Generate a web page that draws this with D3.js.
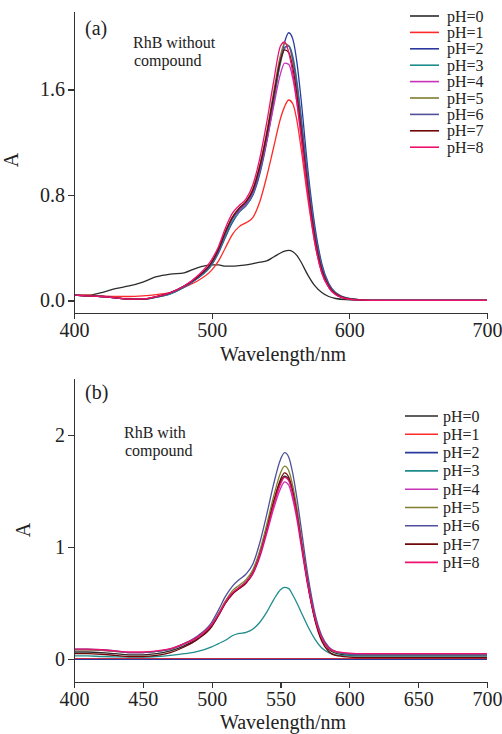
<!DOCTYPE html>
<head>
<meta charset="utf-8">
<script src="https://d3js.org/d3.v7.min.js"></script>
<style>
  body { margin: 0; background: #fff; }
  svg text { font-family: "Liberation Serif", "Times New Roman", serif; fill: #222; }
  .axis path, .axis line { fill: none; stroke: #333; stroke-width: 1.2; shape-rendering: crispEdges; }
  .curve { fill: none; stroke-width: 1.3; }
</style>
</head>
<body>
<div id="chart"></div>
<script>
// wavelength grid shared by every spectrum (nm)
var wl = [400,410,420,430,440,450,460,470,480,490,500,505,510,515,520,525,530,535,540,545,550,553,556,559,562,565,570,575,580,585,590,600,610,620,650,700];

var phLabels = ["pH=0","pH=1","pH=2","pH=3","pH=4","pH=5","pH=6","pH=7","pH=8"];
var phColors = ["#2b2b2b","#ff2a2a","#2a3a9c","#1f8c8c","#c832b8","#7e7e2e","#50509c","#6e0808","#ee1270"];

// (a) RhB without compound
var a0 = [0.04,0.04,0.06,0.09,0.11,0.14,0.18,0.20,0.21,0.25,0.27,0.27,0.26,0.26,0.265,0.27,0.28,0.29,0.30,0.33,0.36,0.375,0.38,0.37,0.34,0.29,0.19,0.11,0.06,0.03,0.015,0.005,0,0,0,0];
var a1 = [0.04,0.04,0.035,0.03,0.03,0.035,0.045,0.06,0.10,0.15,0.23,0.30,0.40,0.50,0.56,0.59,0.63,0.75,0.94,1.16,1.38,1.47,1.52,1.49,1.36,1.15,0.76,0.43,0.21,0.10,0.045,0.01,0.003,0,0,0];
var a2 = [0.04,0.035,0.03,0.02,0.01,0.01,0.025,0.05,0.10,0.17,0.27,0.36,0.48,0.59,0.67,0.72,0.80,0.96,1.20,1.50,1.82,1.96,2.03,1.98,1.80,1.52,0.98,0.56,0.28,0.13,0.06,0.015,0.004,0,0,0];
var a3 = [0.04,0.035,0.03,0.02,0.01,0.01,0.025,0.05,0.10,0.17,0.27,0.37,0.49,0.60,0.67,0.72,0.81,0.98,1.22,1.52,1.80,1.91,1.93,1.85,1.66,1.40,0.92,0.52,0.26,0.12,0.055,0.013,0.004,0,0,0];
var a4 = [0.04,0.035,0.03,0.02,0.01,0.012,0.03,0.06,0.11,0.18,0.29,0.39,0.52,0.62,0.68,0.73,0.82,0.99,1.21,1.47,1.72,1.80,1.79,1.68,1.49,1.24,0.80,0.44,0.21,0.10,0.045,0.01,0.003,0,0,0];
var a5 = [0.04,0.035,0.03,0.02,0.01,0.012,0.03,0.06,0.11,0.18,0.29,0.39,0.52,0.63,0.70,0.75,0.85,1.03,1.28,1.58,1.86,1.95,1.93,1.81,1.60,1.33,0.87,0.49,0.24,0.11,0.05,0.012,0.003,0,0,0];
var a6 = [0.04,0.035,0.03,0.02,0.01,0.01,0.028,0.055,0.105,0.175,0.28,0.38,0.51,0.62,0.69,0.74,0.83,1.00,1.25,1.55,1.83,1.92,1.93,1.83,1.63,1.37,0.90,0.51,0.25,0.12,0.05,0.012,0.003,0,0,0];
var a7 = [0.04,0.035,0.03,0.02,0.01,0.01,0.03,0.06,0.11,0.18,0.29,0.39,0.52,0.63,0.70,0.75,0.84,1.02,1.26,1.55,1.82,1.90,1.88,1.76,1.55,1.29,0.84,0.47,0.23,0.11,0.05,0.012,0.003,0,0,0];
var a8 = [0.04,0.035,0.03,0.02,0.01,0.012,0.03,0.06,0.11,0.19,0.31,0.41,0.55,0.66,0.72,0.77,0.88,1.08,1.35,1.66,1.93,1.96,1.88,1.72,1.50,1.24,0.80,0.44,0.21,0.10,0.045,0.01,0.003,0,0,0];

// (b) RhB with compound
var b0 = [0.065,0.065,0.06,0.05,0.04,0.04,0.05,0.075,0.12,0.19,0.30,0.40,0.51,0.59,0.64,0.69,0.78,0.94,1.16,1.40,1.58,1.63,1.60,1.47,1.28,1.05,0.66,0.36,0.18,0.09,0.055,0.035,0.03,0.03,0.03,0.03];
var b1 = [0.005,0.005,0.005,0.005,0.005,0.005,0.005,0.005,0.005,0.005,0.005,0.005,0.005,0.005,0.005,0.005,0.005,0.005,0.005,0.005,0.005,0.005,0.005,0.005,0.005,0.005,0.005,0.005,0.005,0.005,0.005,0.005,0.005,0.005,0.005,0.005];
var b2 = [0,0,0,0,0,0,0,0,0,0,0,0,0,0,0,0,0,0,0,0,0,0,0,0,0,0,0,0,0,0,0,0,0,0,0,0];
var b3 = [0.03,0.03,0.025,0.022,0.02,0.02,0.025,0.035,0.05,0.07,0.11,0.14,0.17,0.21,0.23,0.24,0.27,0.33,0.42,0.53,0.62,0.64,0.63,0.57,0.50,0.42,0.29,0.18,0.10,0.06,0.04,0.03,0.03,0.03,0.03,0.03];
var b4 = [0.085,0.085,0.08,0.07,0.06,0.06,0.07,0.09,0.135,0.195,0.30,0.39,0.50,0.58,0.63,0.68,0.76,0.91,1.12,1.34,1.52,1.58,1.55,1.42,1.24,1.01,0.64,0.36,0.18,0.10,0.065,0.05,0.045,0.045,0.045,0.045];
var b5 = [0.085,0.085,0.08,0.07,0.06,0.06,0.07,0.09,0.14,0.20,0.31,0.41,0.52,0.61,0.66,0.71,0.80,0.97,1.20,1.45,1.66,1.72,1.68,1.54,1.34,1.09,0.69,0.38,0.19,0.10,0.065,0.045,0.04,0.04,0.04,0.04];
var b6 = [0.09,0.09,0.085,0.075,0.06,0.06,0.07,0.09,0.14,0.21,0.33,0.44,0.56,0.65,0.71,0.76,0.85,1.04,1.29,1.56,1.78,1.84,1.80,1.65,1.43,1.17,0.74,0.41,0.21,0.11,0.07,0.045,0.04,0.04,0.04,0.04];
var b7 = [0.05,0.05,0.045,0.035,0.025,0.025,0.035,0.06,0.11,0.18,0.29,0.39,0.50,0.58,0.63,0.68,0.77,0.93,1.15,1.40,1.60,1.66,1.62,1.49,1.29,1.05,0.66,0.35,0.16,0.07,0.035,0.02,0.015,0.015,0.015,0.015];
var b8 = [0.09,0.09,0.085,0.075,0.065,0.065,0.075,0.095,0.14,0.20,0.31,0.40,0.51,0.59,0.64,0.69,0.77,0.93,1.14,1.37,1.56,1.62,1.59,1.46,1.27,1.04,0.66,0.37,0.19,0.10,0.07,0.055,0.05,0.05,0.05,0.05];

var seriesA = [a0,a1,a2,a3,a4,a5,a6,a7,a8];
var seriesB = [b0,b1,b2,b3,b4,b5,b6,b7,b8];

var serif = "'Liberation Serif', 'Times New Roman', serif";

var svg = d3.select("#chart").append("svg")
    .attr("width", 502)
    .attr("height", 734);

function panel(opt) {
  var x = d3.scaleLinear().domain([400, 700]).range([74, 487]);
  var y = d3.scaleLinear().domain(opt.yDomain).range(opt.yRange);

  var g = svg.append("g");

  // curves
  var line = d3.line()
      .x(function(d) { return x(d[0]); })
      .y(function(d) { return y(d[1]); })
      .curve(d3.curveMonotoneX);
  opt.series.forEach(function(s, i) {
    g.append("path")
      .attr("class", "curve")
      .attr("d", line(wl.map(function(w, j) { return [w, s[j]]; })))
      .style("stroke", phColors[i]);
  });

  // axes
  var xa = g.append("g")
    .attr("class", "axis")
    .attr("transform", "translate(0," + opt.yRange[0] + ")")
    .call(d3.axisBottom(x).tickValues(opt.xTicks).tickSize(6).tickSizeOuter(0).tickPadding(4));
  var ya = g.append("g")
    .attr("class", "axis")
    .attr("transform", "translate(74,0)")
    .call(d3.axisLeft(y).tickValues(opt.yTicks).tickFormat(opt.yFormat).tickSize(6).tickSizeOuter(0).tickPadding(3));
  xa.attr("font-family", null).attr("font-size", null);
  ya.attr("font-family", null).attr("font-size", null);

  g.append("text")
    .attr("x", 283).attr("y", opt.xLabelY)
    .style("text-anchor", "middle").style("font-size", "20px")
    .text("Wavelength/nm");
  g.append("text")
    .attr("transform", "translate(" + opt.aX + "," + opt.aY + ") rotate(-90)")
    .style("text-anchor", "middle").style("font-size", "20px")
    .text("A");

  g.append("text").attr("x", opt.tag[0]).attr("y", opt.tag[1])
    .style("font-size", "20px").text(opt.tagText);
  g.append("text").attr("x", opt.note[0]).attr("y", opt.note[1])
    .style("font-size", "16px").text(opt.noteText[0]);
  g.append("text").attr("x", opt.note[0] + 1).attr("y", opt.note[1] + 17.5)
    .style("font-size", "16px").text(opt.noteText[1]);

  // legend
  var lg = g.append("g");
  phLabels.forEach(function(lab, i) {
    var yy = opt.leg.y0 + i * opt.leg.dy;
    lg.append("line")
      .attr("x1", opt.leg.x1).attr("x2", opt.leg.x2)
      .attr("y1", yy).attr("y2", yy)
      .style("stroke", phColors[i]).style("stroke-width", 1.6);
    lg.append("text")
      .attr("x", opt.leg.tx).attr("y", yy + 5.5)
      .style("font-size", "16px").text(lab);
  });

  g.selectAll(".axis text").style("font-size", "20px");
  g.selectAll("text").style("font-family", serif).style("fill", "#222");
}

panel({
  series: seriesA,
  yDomain: [-0.095, 2.195], yRange: [313, 11],
  xTicks: [400, 500, 600, 700],
  yTicks: [0, 0.8, 1.6], yFormat: d3.format(".1f"),
  xLabelY: 361, aX: 18, aY: 160,
  tag: [85, 35], tagText: "(a)",
  note: [133, 48], noteText: ["RhB without", "compound"],
  leg: { x1: 410, x2: 439, tx: 447, y0: 16, dy: 16.4 }
});

panel({
  series: seriesB,
  yDomain: [-0.202, 2.505], yRange: [682, 378],
  xTicks: [400, 450, 500, 550, 600, 650, 700],
  yTicks: [0, 1, 2], yFormat: d3.format("d"),
  xLabelY: 729, aX: 30, aY: 530,
  tag: [85, 399], tagText: "(b)",
  note: [124, 438], noteText: ["RhB with", "compound"],
  leg: { x1: 405, x2: 438, tx: 443, y0: 416, dy: 18.3 }
});
</script>
</body>
